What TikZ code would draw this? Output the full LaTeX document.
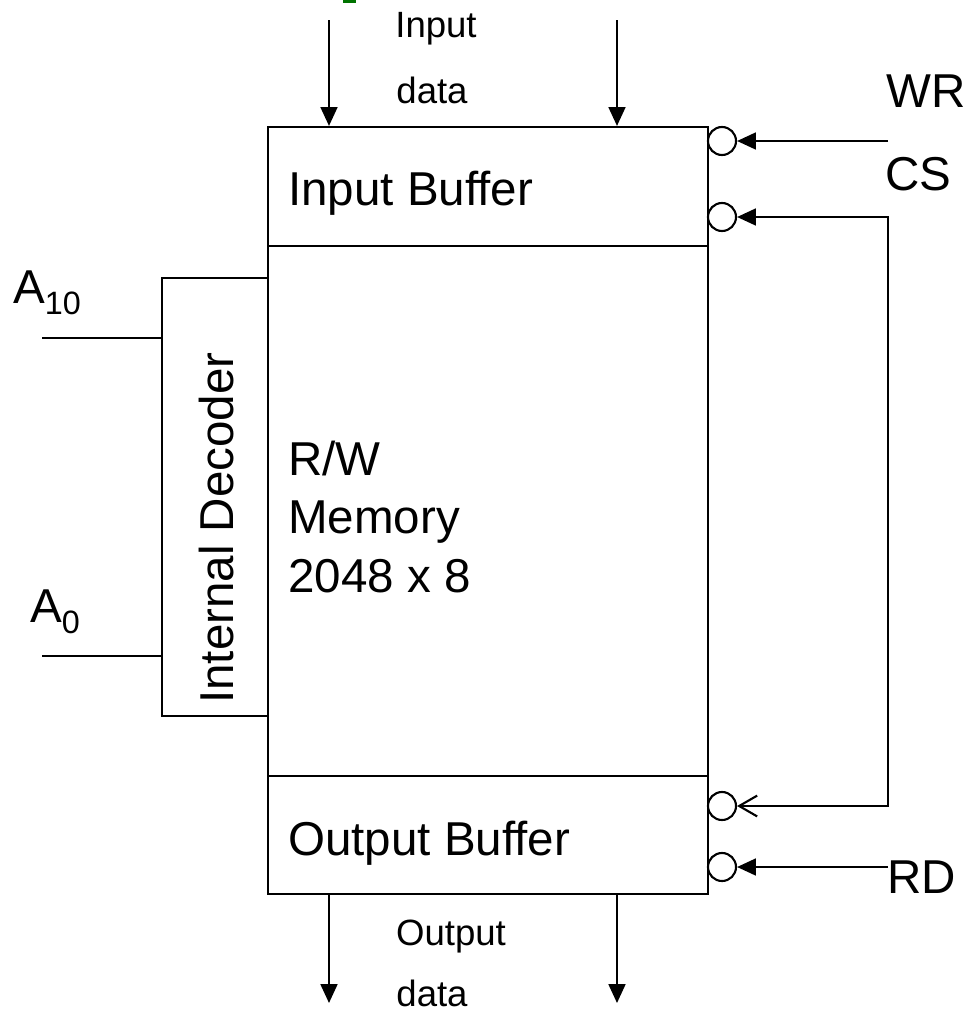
\documentclass[tikz,border=0pt]{standalone}
\usepackage{fontspec}
\setmainfont{Liberation Sans}
\usetikzlibrary{arrows.meta}
\newcommand{\sbs}[1]{\raisebox{-8.5pt}{\fontsize{23}{23}\selectfont #1}}

\begin{document}
\begin{tikzpicture}[x=0.025cm, y=-0.025cm,
    blk/.style={draw, line width=1.5pt, rectangle, inner sep=0pt},
    bubble/.style={draw, circle, line width=1.5pt, minimum size=0.7cm, inner sep=0pt},
    big/.style={font=\fontsize{33.8}{41.5}\selectfont, inner sep=0pt},
    small/.style={font=\fontsize{26}{30}\selectfont, inner sep=0pt},
    sig/.style={line width=1.5pt, -{Triangle[length=0.47cm, width=0.42cm]}},
    wire/.style={line width=1.5pt}]
        \useasboundingbox (0,0) rectangle (973,1013);
        \fill[green!45!black] (343,0) rectangle (356,3);
        % Blocks
        \node[blk, minimum width=11cm, minimum height=2.975cm] (inbuf) at (488,186.5) {};
        \node[blk, minimum width=11cm, minimum height=13.25cm] (mem) at (488,511) {};
        \node[blk, minimum width=11cm, minimum height=2.95cm] (outbuf) at (488,835) {};
        \node[blk, minimum width=2.65cm, minimum height=10.95cm] (dec) at (215,497) {};
        % Block texts
        \node[big, anchor=base west] (inbuftxt) at (288,205) {Input Buffer};
        \node[big, anchor=west, align=left] (memtxt) at (288,517) {R/W\\Memory\\2048 x 8};
        \node[big, anchor=base west] (outbuftxt) at (288,855) {Output Buffer};
        \node[big, anchor=base, rotate=90] (dectxt) at (233,528) {Internal Decoder};
        % Input data
        \coordinate (in1) at (329,20);
        \coordinate (in2) at (617,20);
        \draw[sig] (in1) -- (in1 |- inbuf.north);
        \draw[sig] (in2) -- (in2 |- inbuf.north);
        \node[small, anchor=base] (intxt) at (436,37) {Input};
        \node[small, anchor=base] (indata) at (432,103) {data};
        % Output data
        \coordinate (out1) at (329,1003);
        \coordinate (out2) at (617,1003);
        \draw[sig] (out1 |- outbuf.south) -- (out1);
        \draw[sig] (out2 |- outbuf.south) -- (out2);
        \node[small, anchor=base] (outtxt) at (451,945) {Output};
        \node[small, anchor=base] (outdata) at (432,1006) {data};
        % Address lines
        \coordinate (a10) at (42,338);
        \coordinate (a0) at (42,656);
        \draw[wire] (a10) -- (a10 -| dec.west);
        \draw[wire] (a0) -- (a0 -| dec.west);
        \node[big, anchor=base west] (a10txt) at (13,303) {A\sbs{10}};
        \node[big, anchor=base west] (a0txt) at (30,622) {A\sbs{0}};
        % Control inputs
        \node[bubble] (wrb) at (722,141) {};
        \node[bubble] (csb) at (722,217) {};
        \node[bubble] (csb2) at (722,806) {};
        \node[bubble] (rdb) at (722,867) {};
        \coordinate (wr) at (888,141);
        \coordinate (cs) at (888,217);
        \coordinate (rd) at (888,867);
        \draw[sig] (wr) -- (wrb);
        \draw[wire, {Triangle[length=0.47cm, width=0.42cm]}-{Straight Barb[length=0.45cm, width=0.52cm, line width=1.5pt]}]
            (csb) -- (cs) -- (cs |- csb2) -- (csb2);
        \draw[sig] (rd) -- (rdb);
        \node[big, anchor=base west] (wrtxt) at (886,107) {WR};
        \node[big, anchor=base west] (cstxt) at (885,190) {CS};
        \node[big, anchor=base west] (rdtxt) at (887,893) {RD};
    \end{tikzpicture}
\end{document}
